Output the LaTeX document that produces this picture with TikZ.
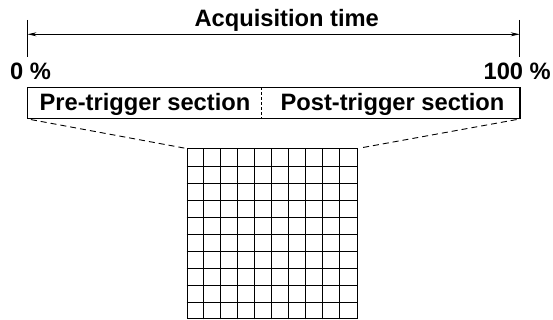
\documentclass[tikz,border=0pt]{standalone}
\usepackage{fontspec}
\setmainfont{Liberation Sans}
\usetikzlibrary{arrows.meta,positioning}

\begin{document}
\begin{tikzpicture}[x=1pt,y=1pt,
  lbl/.style={inner sep=0pt,font=\fontsize{23.7}{28}\selectfont\bfseries},
  frame/.style={draw,line width=1.1pt,inner sep=0pt},
  cell/.style={line width=0.9pt}]
\useasboundingbox (0,0) rectangle (553,320);
% time axis
\coordinate (t0) at (27.5,300);
\coordinate (t1) at (519.7,300);
\draw [line width=1pt] (t0) -- ++(0,-37);
\draw [line width=1pt] (t1) -- ++(0,-37);
\draw [line width=0.8pt,{Stealth[length=9pt,width=4pt]}-{Stealth[length=9pt,width=4pt]}] (27.5,285.7) -- (519.7,285.7);
\node [lbl,anchor=base] (acq) at (286.7,293.3) {Acquisition time};
\node [lbl,anchor=base west] (zero) at (10,240) {0 \%};
\node [lbl,anchor=base east] (hundred) at (551,240) {100 \%};
% record bar
\node [frame,minimum width=492.5pt,minimum height=30.6pt] (bar) at (273.75,217) {};
\coordinate (split) at (261,217);
\draw [line width=0.8pt,dashed,dash pattern=on 3pt off 2pt] (split |- bar.north) -- (split |- bar.south);
\node [lbl,anchor=base] (pre) at (145,209) {Pre-trigger section};
\node [lbl,anchor=base] (post) at (392.5,209) {Post-trigger section};
% memory grid
\node [draw,line width=1pt,minimum size=170pt,inner sep=0pt] (grid) at (272,86) {};
\foreach \i in {1,...,9} {
  \draw [cell] (grid.south west) ++(17*\i,0) -- ++(0,170);
  \draw [cell] (grid.south west) ++(0,17*\i) -- ++(170,0);
}
\draw [line width=0.9pt,dashed,dash pattern=on 6pt off 4pt,shorten <=4pt,shorten >=2pt] (bar.south west) -- (grid.north west);
\draw [line width=0.9pt,dashed,dash pattern=on 6pt off 4pt,shorten <=4pt,shorten >=2pt] (bar.south east) -- (grid.north east);
\end{tikzpicture}
\end{document}
